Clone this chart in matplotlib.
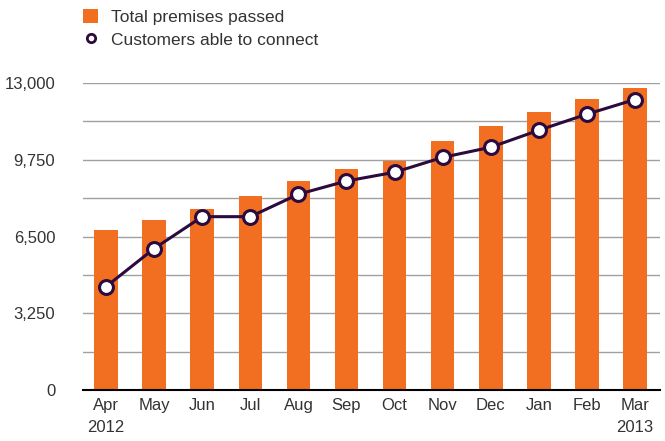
import numpy as np
import matplotlib
matplotlib.use("Agg")
import matplotlib.pyplot as plt
from matplotlib.lines import Line2D
from matplotlib.patches import Patch

plt.rcParams['font.family'] = ['Liberation Sans', 'DejaVu Sans']

months = ["Apr\n2012", "May", "Jun", "Jul", "Aug", "Sep", "Oct", "Nov",
          "Dec", "Jan", "Feb", "Mar\n2013"]
premises_passed = [6780, 7200, 7670, 8220, 8850, 9360, 9700, 10550,
                   11180, 11770, 12320, 12790]
able_to_connect = [4380, 5990, 7340, 7340, 8290, 8850, 9220, 9850,
                   10280, 11000, 11680, 12300]
y_ticks = [0, 3250, 6500, 9750, 13000]

orange = "#F26F21"
purple = "#2B0A3D"
grid_grey = "#A0A0A0"
text_col = "#333333"

fig = plt.figure(figsize=(6.65, 4.41), dpi=100)
ax = fig.add_axes([0.1248, 0.1156, 0.8677, 0.6962])

x = np.arange(len(months))
ax.bar(x, premises_passed, width=0.49, color=orange, zorder=2)
ax.plot(x, able_to_connect, color=purple, lw=2.2, marker='o', markersize=10,
        markerfacecolor='white', markeredgecolor=purple, markeredgewidth=2.2,
        zorder=3, clip_on=False)

ax.set_xlim(-0.48, 11.52)
ax.set_ylim(0, 13000)
ax.set_yticks(y_ticks)
ax.set_yticklabels(["{:,}".format(v) for v in y_ticks])
for g in np.arange(1625, 13001, 1625):
    ax.axhline(g, color=grid_grey, lw=1.0, zorder=1)

ax.set_xticks(x)
ax.set_xticklabels(months, linespacing=1.55)
ax.tick_params(axis='both', length=0, labelsize=12, colors=text_col)
ax.tick_params(axis='y', pad=20)
ax.tick_params(axis='x', pad=6)
for s in ['top', 'right', 'left']:
    ax.spines[s].set_visible(False)
ax.spines['bottom'].set_color('black')
ax.spines['bottom'].set_linewidth(1.5)
ax.spines['bottom'].set_zorder(4)

handles = [Patch(facecolor=orange, edgecolor='none'),
           Line2D([], [], ls='none', marker='o', markersize=6,
                  markerfacecolor='white', markeredgecolor=purple,
                  markeredgewidth=2)]
fig.legend(handles, ["Total premises passed", "Customers able to connect"],
           loc='upper left', bbox_to_anchor=(0.102, 1.015), frameon=False,
           fontsize=12.5, handlelength=0.82, handleheight=0.82,
           handletextpad=0.75, labelspacing=0.4, labelcolor=text_col)

fig.savefig("out.png", dpi=100)
